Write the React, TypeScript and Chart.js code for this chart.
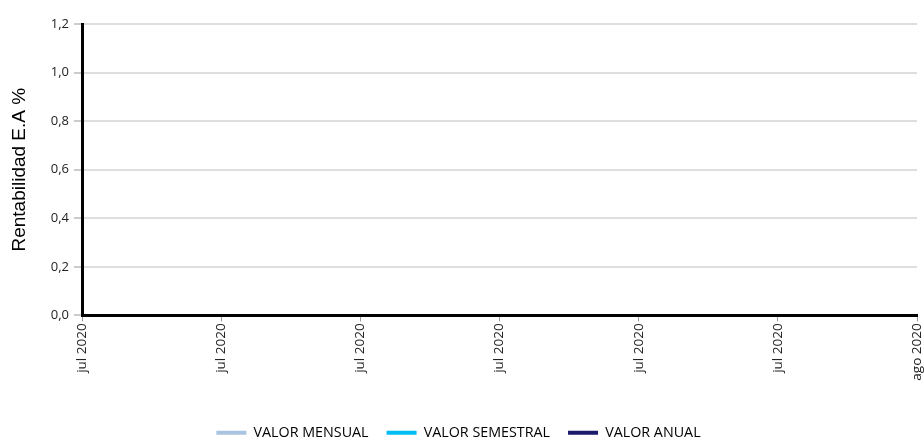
import React, { useEffect, useRef } from "react";
import { Chart, registerables } from "chart.js";

Chart.register(...registerables);

const categories: string[] = ["jul 2020", "jul 2020", "jul 2020", "jul 2020", "jul 2020", "jul 2020", "ago 2020"];
const valorMensual: (number | null)[] = [null, null, null, null, null, null, null];
const valorSemestral: (number | null)[] = [null, null, null, null, null, null, null];
const valorAnual: (number | null)[] = [null, null, null, null, null, null, null];
const seriesNames: string[] = ["VALOR MENSUAL", "VALOR SEMESTRAL", "VALOR ANUAL"];
const seriesColors: string[] = ["#a9c3e0", "#00bdf2", "#1b1a6b"];
const yTitle = "Rentabilidad E.A %";

export default function App() {
  const ref = useRef<HTMLCanvasElement | null>(null);
  useEffect(() => {
    if (!ref.current) return;
    const series = [valorMensual, valorSemestral, valorAnual];
    const chart = new Chart(ref.current, {
      type: "line",
      data: {
        labels: categories,
        datasets: series.map((d, i) => ({
          label: seriesNames[i],
          data: d,
          borderColor: seriesColors[i],
          backgroundColor: seriesColors[i],
          borderWidth: 3,
          pointRadius: 0,
        })),
      },
      options: {
        responsive: false,
        animation: false,
        layout: { padding: { top: 24, right: 7, left: 0, bottom: -13 } },
        plugins: {
          tooltip: { enabled: false },
          legend: {
            position: "bottom",
            labels: {
              boxWidth: 30,
              boxHeight: 4,
              padding: 18,
              color: "#222",
              font: { family: "'Open Sans'", size: 14.3 },
              generateLabels: (c: any) =>
                c.data.datasets.map((ds: any, i: number) => ({
                  text: ds.label,
                  fillStyle: seriesColors[i],
                  strokeStyle: seriesColors[i],
                  lineWidth: 0,
                  datasetIndex: i,
                  hidden: false,
                })),
            },
          },
        },
        scales: {
          x: {
            type: "category",
            offset: false,
            border: { color: "#000", width: 3 },
            grid: { display: true, drawOnChartArea: false, drawTicks: true, tickLength: 6, color: "#999" },
            afterFit: (s: any) => {
              s.height += 25;
              s.paddingRight = 0;
            },
            ticks: {
              autoSkip: false,
              maxRotation: 90,
              minRotation: 90,
              color: "#222",
              padding: 2,
              font: { family: "'Open Sans'", size: 13.5 },
            },
          },
          y: {
            min: 0,
            max: 1.2,
            border: { color: "#000", width: 3 },
            grid: { color: "#dedede", lineWidth: 2, tickLength: 8, tickColor: "#999", tickWidth: 1 },
            ticks: {
              stepSize: 0.2,
              color: "#222",
              padding: 5,
              font: { family: "'Open Sans'", size: 13 },
              callback: (v: any) => Number(v).toFixed(1).replace(".", ","),
            },
            title: {
              display: true,
              text: yTitle,
              color: "#000",
              padding: { top: 8, bottom: 15 },
              font: { family: "'Liberation Sans', Arial", size: 19 },
            },
          },
        },
      },
    });
    return () => chart.destroy();
  }, []);
  return (
    <div style={{ position: "fixed", left: 0, top: 0, width: 924, height: 437, overflow: "hidden" }}>
      <canvas ref={ref} width={924} height={437} />
    </div>
  );
}
